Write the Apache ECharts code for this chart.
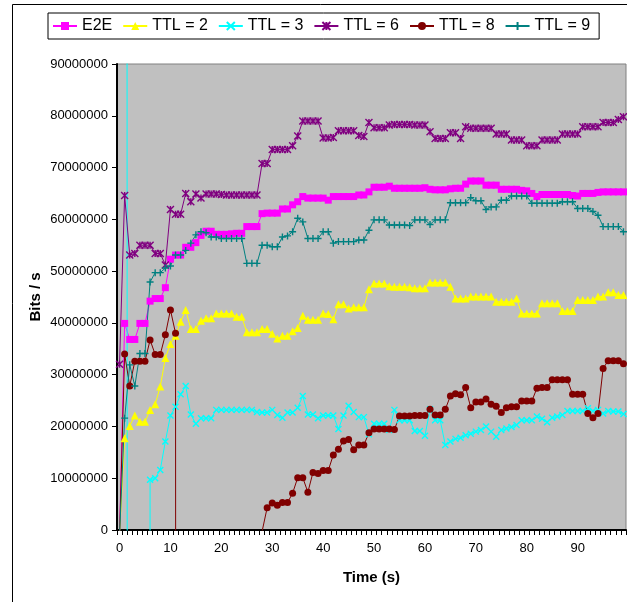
<!DOCTYPE html>
<html><head><meta charset="utf-8">
<script src="https://cdn.jsdelivr.net/npm/echarts@6/dist/echarts.min.js"></script>
<style>html,body{margin:0;padding:0;background:#fff}#c{width:627px;height:602px}</style>
</head><body><div id="c"></div>
<script>
// Time categories (s) and labelled ticks
const categories = Array.from({length: 100}, (_, i) => String(i));
const yTicks = [0, 10000000, 20000000, 30000000, 40000000, 50000000, 60000000, 70000000, 80000000, 90000000];

// Throughput values in Mbit/s (values of +/-2000 are off-scale outliers, null = no sample)
const e2e = [-1,39.9,36.8,36.8,39.9,39.9,44.2,44.7,44.7,46.8,52.3,53.1,53.1,54.6,54.6,55.5,56.9,57.7,57.7,57.1,
 57.1,57.1,57.2,57.3,57.3,58.6,58.6,58.6,61.1,61.2,61.2,61.2,62.0,62.0,62.8,63.4,64.4,64.1,64.1,64.1,
 64.1,63.7,64.4,64.4,64.4,64.4,64.4,64.7,64.7,65.3,66.2,66.2,66.2,66.4,66.0,66.0,66.0,66.0,66.0,66.0,
 66.1,65.8,65.7,65.7,65.7,65.9,66.0,66.0,66.8,67.4,67.4,67.4,66.6,66.6,66.6,65.8,65.8,65.8,65.8,65.6,
 65.5,65.0,64.4,64.8,64.8,64.8,64.8,64.8,64.8,64.6,64.5,65.0,65.0,65.0,65.2,65.3,65.3,65.3,65.3,65.3];
const ttl2 = [-1,17.7,20.1,22.1,20.9,20.9,23.2,24.3,27.7,33.2,35.9,37.5,40.2,42.5,38.8,38.8,40.4,40.9,40.9,41.8,
 41.8,41.8,41.8,41.2,41.2,38.2,38.2,38.2,38.8,38.8,37.9,37.0,37.5,37.5,38.4,39.0,41.4,40.6,40.6,40.6,
 41.8,41.7,40.7,43.6,43.6,42.8,43.0,43.0,43.0,46.5,47.6,47.6,47.6,47.1,47.0,47.0,47.0,46.9,46.7,46.7,
 46.7,47.8,47.8,47.8,47.8,47.0,44.7,44.7,44.7,45.1,45.1,45.1,45.1,45.1,44.1,44.1,44.1,44.1,44.7,41.8,
 41.8,41.8,41.8,43.8,43.8,43.8,43.8,42.3,42.3,42.3,44.4,44.4,44.4,44.4,45.1,45.1,45.9,45.9,45.4,45.4];
const ttl3 = [null,2000,-2000,null,null,-2000,9.7,10.0,11.6,17.1,22.1,23.8,26.2,27.8,22.3,20.5,21.6,21.6,21.6,23.2,
 23.2,23.2,23.2,23.2,23.2,23.2,23.2,22.8,22.7,22.7,23.2,22.2,21.7,22.7,22.7,23.6,25.9,22.3,22.3,21.6,
 22.1,22.1,22.1,19.5,22.1,24.0,22.8,21.8,21.8,18.5,20.5,20.5,20.5,19.3,23.2,21.2,21.2,21.2,19.1,19.1,
 18.2,23.3,21.2,21.2,16.4,17.1,17.6,17.8,18.3,18.6,19.0,19.3,20.0,19.0,18.0,19.3,19.6,19.9,20.3,21.2,
 21.2,21.2,21.9,21.5,20.8,21.7,21.9,22.2,23.0,23.0,23.0,23.0,23.5,23.0,23.2,22.5,23.0,22.9,22.9,22.4];
const ttl6 = [32.0,64.6,53.1,53.4,55.0,55.0,55.0,53.4,53.4,51.2,61.9,61.0,61.0,65.0,63.4,64.9,64.1,64.9,64.9,64.9,
 64.8,64.7,64.7,64.7,64.7,64.7,64.7,64.7,70.8,70.8,73.5,73.5,73.5,73.5,74.2,76.1,79.0,79.0,79.0,79.0,
 75.7,75.7,75.8,77.1,77.1,77.1,77.1,76.2,76.0,78.7,77.7,77.7,77.7,78.2,78.3,78.3,78.3,78.3,78.2,78.2,
 78.2,76.9,75.6,75.6,75.6,76.7,76.7,75.6,77.9,77.6,77.6,77.6,77.6,77.6,76.5,76.5,76.5,75.3,75.3,75.3,
 74.2,74.2,74.2,75.3,75.3,75.3,75.3,76.5,76.5,76.5,76.5,77.9,77.9,77.9,77.9,78.7,78.7,78.7,79.3,79.8];
const ttl8 = [-1,34.0,27.8,32.6,32.6,32.6,36.7,33.9,33.9,37.7,42.5,38.0,-2000,null,null,null,null,null,null,null,
 null,null,null,null,null,null,null,null,-0.3,4.3,5.2,4.8,5.3,5.3,7.1,10.1,10.1,7.3,11.1,10.9,
 11.5,11.5,14.5,15.6,17.2,17.5,15.5,16.4,16.4,18.8,19.5,19.5,19.5,19.5,19.4,22.0,22.0,22.0,22.1,22.1,
 22.1,23.3,22.2,22.2,23.3,25.9,26.3,26.1,27.5,23.6,24.7,24.7,25.3,24.3,23.9,22.7,23.6,23.8,23.8,24.9,
 24.9,24.9,27.4,27.5,27.5,29.0,29.0,29.0,29.0,26.2,26.2,26.2,22.5,21.7,22.5,31.2,32.7,32.7,32.7,32.1];
const ttl9 = [-1,21.6,31.9,27.8,34.1,34.1,47.9,49.7,49.7,50.6,51.0,53.1,53.1,54.0,55.4,57.0,57.6,57.4,56.6,56.6,
 56.3,56.3,56.3,56.3,56.3,51.5,51.5,51.5,55.0,55.0,54.7,54.7,56.6,56.8,57.6,60.2,59.5,56.3,56.3,56.3,
 57.6,57.6,55.4,55.7,55.7,55.7,55.7,56.0,56.0,57.9,59.9,59.9,59.9,58.9,58.9,58.9,58.9,58.8,59.9,59.9,
 59.9,59.0,59.9,59.9,59.9,63.2,63.2,63.2,63.2,64.2,63.6,63.6,61.9,62.4,62.4,63.7,63.7,64.5,64.5,64.5,
 64.5,63.1,63.1,63.1,63.1,63.1,63.1,63.4,63.4,63.4,62.1,62.1,62.1,61.5,60.8,58.6,58.6,58.6,58.6,57.6];

const F = 'Arial, "Liberation Sans", sans-serif';
const toBits = a => a.map(v => v === null ? null : v * 1e6);
function mk(name, data, color, symbol, size, stroked) {
  return {
    name, type: 'line', data: toBits(data), symbol, symbolSize: size, symbolKeepAspect: true,
    showAllSymbol: true, connectNulls: false, clip: true,
    lineStyle: {color, width: 1},
    itemStyle: stroked ? {color, borderColor: color, borderWidth: 1.4} : {color, borderWidth: 0},
    emphasis: {disabled: true}
  };
}
const X = 'path://M0,0L10,10M10,0L0,10';
const STAR = 'path://M0,0L10,10M10,0L0,10M5,0L5,10';
const PLUS = 'path://M5,0L5,10M0,5L10,5';

const chart = echarts.init(document.getElementById('c'), null, {renderer: 'canvas'});
chart.setOption({
  animation: false,
  backgroundColor: '#fff',
  graphic: [{type: 'rect', shape: {x: 12.5, y: 4.5, width: 800, height: 800}, style: {fill: 'none', stroke: '#000', lineWidth: 1}, silent: true, z: -10}],
  legend: {
    left: 48, top: 13, itemWidth: 24, itemHeight: 10, itemGap: 10,
    padding: [5, 9, 5, 4], backgroundColor: '#fff', borderColor: '#000', borderWidth: 1, borderRadius: 0,
    textStyle: {fontSize: 16, fontFamily: F, color: '#000'},
    data: ['E2E', 'TTL = 2', 'TTL = 3', 'TTL = 6', 'TTL = 8', 'TTL = 9']
  },
  grid: {left: 117, right: 1, top: 64, bottom: 72, show: true, backgroundColor: '#C0C0C0', borderColor: '#808080', borderWidth: 1},
  xAxis: {
    type: 'category', data: categories, boundaryGap: true,
    axisLine: {lineStyle: {color: '#000', width: 2}},
    axisTick: {show: true, interval: 0, length: 5, lineStyle: {color: '#000', width: 1}},
    axisLabel: {interval: 9, color: '#000', fontSize: 13, fontFamily: F, margin: 12},
    splitLine: {show: false},
    name: 'Time (s)', nameLocation: 'middle', nameGap: 40, nameMoveOverlap: false,
    nameTextStyle: {fontWeight: 'bold', fontSize: 15, color: '#000', fontFamily: F}
  },
  yAxis: {
    type: 'value', min: yTicks[0], max: yTicks[yTicks.length - 1], interval: yTicks[1] - yTicks[0],
    axisLine: {show: true, lineStyle: {color: '#000', width: 2}},
    axisTick: {show: true, length: 5, lineStyle: {color: '#000', width: 1}},
    axisLabel: {color: '#000', fontSize: 13, fontFamily: F, margin: 9, formatter: v => String(v)},
    splitLine: {show: false},
    name: 'Bits / s', nameLocation: 'middle', nameGap: 74, nameMoveOverlap: false,
    nameTextStyle: {fontWeight: 'bold', fontSize: 15, color: '#000', fontFamily: F}
  },
  series: [
    mk('E2E', e2e, '#FF00FF', 'rect', 7, false),
    mk('TTL = 2', ttl2, '#FFFF00', 'triangle', 8, false),
    mk('TTL = 3', ttl3, '#00FFFF', X, 6, true),
    mk('TTL = 6', ttl6, '#800080', STAR, 7, true),
    mk('TTL = 8', ttl8, '#800000', 'circle', 7, false),
    mk('TTL = 9', ttl9, '#008080', PLUS, 7, true)
  ]
});
</script></body></html>
